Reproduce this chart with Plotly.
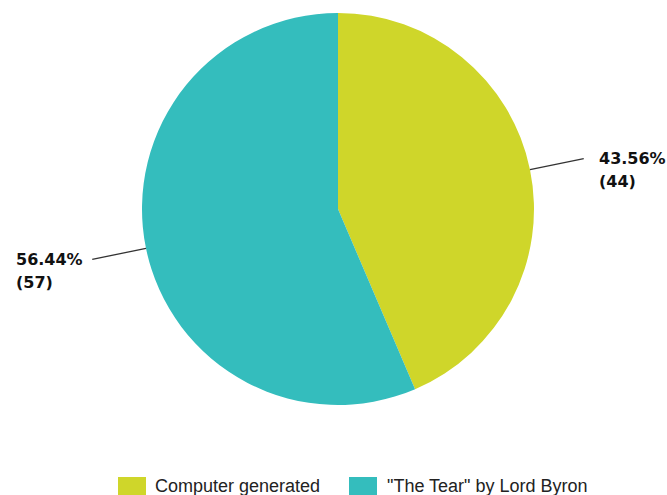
import math
import plotly.graph_objects as go

labels = ["Computer generated", "\"The Tear\" by Lord Byron"]
values = [44, 57]
colors = ["#CFD62A", "#34BDBD"]

W, H = 667, 495
ML, MR, MT, MB = 9, 0, 13, 90
pw, ph = W - ML - MR, H - MT - MB
cx, cy = ML + pw / 2, MT + ph / 2
R = min(pw, ph) / 2

def px2paper(x, y):
    return (x - ML) / pw, 1 - (y - MT) / ph

fig = go.Figure(go.Pie(
    labels=labels, values=values, sort=False, direction="clockwise", rotation=0,
    marker=dict(colors=colors, line=dict(width=0)), textinfo="none",
    hoverinfo="label+value+percent", showlegend=False,
))

total = sum(values)
shapes, annotations = [], []
lab_font = dict(family="DejaVu Sans", size=16, color="#111111")
start = 0.0
for v in values:
    mid = (start + v / 2) / total * 2 * math.pi
    start += v
    dx, dy = math.sin(mid), -math.cos(mid)
    x0, y0 = cx + R * dx, cy + R * dy
    x1, y1 = cx + R * 1.28 * dx, cy + R * 1.28 * dy
    p0, p1 = px2paper(x0, y0), px2paper(x1, y1)
    shapes.append(dict(type="line", xref="paper", yref="paper", x0=p0[0], y0=p0[1], x1=p1[0], y1=p1[1],
                       line=dict(color="#333333", width=1.3)))
    right = dx > 0
    tx = x1 + (13 if right else -8)
    pct = v / total * 100
    for k, txt in enumerate([f"<b>{pct:.2f}%</b>", f"<b>({v})</b>"]):
        pt = px2paper(tx, y1 + k * 23)
        annotations.append(dict(xref="paper", yref="paper", x=pt[0], y=pt[1], showarrow=False,
                                text=txt, xanchor="left", yanchor="middle",
                                xshift=0 if right else -70,
                                font=lab_font))

# custom legend (bottom)
leg_items = [(118, 153), (349, 385)]
for (sx, tx), lab, col in zip(leg_items, labels, colors):
    a = px2paper(sx, 477)
    b = px2paper(sx + 28, 496)
    shapes.append(dict(type="rect", xref="paper", yref="paper", x0=a[0], y0=a[1], x1=b[0], y1=b[1],
                       fillcolor=col, line=dict(width=0)))
    t = px2paper(tx, 486)
    annotations.append(dict(xref="paper", yref="paper", x=t[0], y=t[1], showarrow=False, text=lab,
                            xanchor="left", yanchor="middle",
                            font=dict(family="Liberation Sans, Arial", size=18, color="#222222")))

fig.update_layout(
    width=W, height=H, margin=dict(l=ML, r=MR, t=MT, b=MB),
    paper_bgcolor="white", plot_bgcolor="white",
    shapes=shapes, annotations=annotations, showlegend=False,
)
fig.write_html("out.html")
